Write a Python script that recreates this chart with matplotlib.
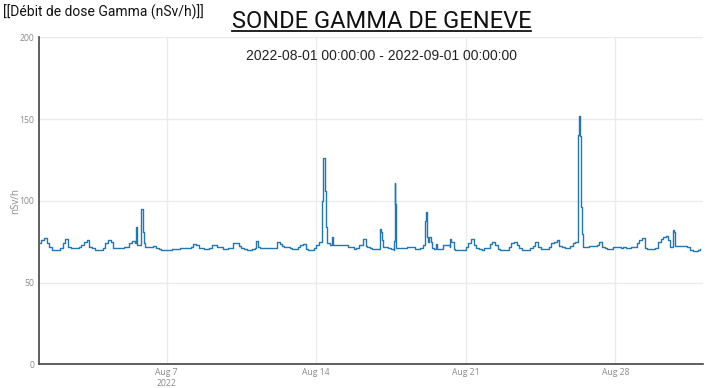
"""Sonde gamma de Genève : débit de dose, août 2022."""

import matplotlib
matplotlib.use("Agg")
import matplotlib.pyplot as plt
import pandas as pd
from matplotlib.lines import Line2D

# ── Données ───────────────────────────────────────────────────────────────────
START = "2022-08-01"

# relevés toutes les 3 h (00h, 03h, ..., 21h), une ligne par jour (nSv/h)
base_3h = [
    [74, 76, 77, 74, 72, 70, 70, 70],            # 01 août
    [71, 74, 76.5, 71.5, 71, 71, 71, 72],        # 02
    [73, 75, 76, 72, 71, 70, 70, 70],            # 03
    [71, 74, 76, 75, 71, 71, 71, 71],            # 04
    [72, 72, 74, 75.4, 74, 73, 73, 81],          # 05
    [72, 71.5, 72, 72.5, 71, 70.5, 70, 70],      # 06
    [70, 70, 70.3, 70.3, 70.8, 71, 71, 71],      # 07
    [71, 72, 73.8, 73, 71, 71, 70.5, 70.5],      # 08
    [71, 73, 73, 72, 71.5, 70.5, 70.5, 71],      # 09
    [71, 74, 74, 72.5, 71, 70.5, 70, 70],        # 10
    [70.5, 71, 75.4, 71, 71, 71, 71, 71],        # 11
    [71, 71, 75, 72.5, 72, 72, 71, 70.5],        # 12
    [70.5, 72, 73, 73.5, 70.5, 70, 70, 71],      # 13
    [73, 75, 77, 126, 74, 73, 78, 73],           # 14
    [73, 73, 73, 73, 72, 72, 70.5, 71],          # 15
    [73, 73, 76.5, 72, 71, 70.3, 70.3, 70.3],    # 16
    [83, 72, 71.5, 71, 70.3, 70, 71, 71],        # 17
    [71, 71, 72, 72, 71.5, 70.5, 70.3, 71],      # 18
    [73, 93, 75, 75, 70.5, 73.5, 70.5, 70.5],    # 19
    [73, 73, 72, 75, 70, 70, 70, 70],            # 20
    [71.5, 74, 76.5, 73, 71, 70.5, 70, 71],      # 21
    [71, 73.5, 75, 73, 70.3, 70, 70, 70],        # 22
    [72, 74, 75, 73, 71, 70, 70, 70],            # 23
    [71, 72.5, 74.5, 72, 70.3, 70.3, 70.3, 72],  # 24
    [74, 75, 76, 72.4, 71.5, 71, 71, 72.5],      # 25
    [73, 75, 75, 139.5, 72, 72, 72.5, 72.5],     # 26
    [72.5, 73, 74.5, 72, 71, 70.3, 70.3, 71.6],  # 27
    [71.6, 71.6, 71, 71.6, 71, 71, 71.6, 72],    # 28
    [74, 76, 77.5, 71, 70.5, 70.3, 70.3, 71],    # 29
    [74.5, 76.5, 78, 78.5, 76, 72, 81, 72.4],    # 30
    [72.4, 72.4, 72.4, 71.6, 69.9, 69.3, 69.5, 70],  # 31
]

# relevés intermédiaires (pics et paliers courts)
event_times = [
    "2022-08-05 14:00", "2022-08-05 19:00", "2022-08-05 22:00",
    "2022-08-11 04:00", "2022-08-11 07:00",
    "2022-08-12 04:00", "2022-08-12 07:30",
    "2022-08-14 07:00", "2022-08-14 07:30", "2022-08-14 09:30",
    "2022-08-14 10:00", "2022-08-14 11:30", "2022-08-14 19:00",
    "2022-08-16 04:00", "2022-08-16 08:00", "2022-08-16 23:30",
    "2022-08-17 00:45", "2022-08-17 01:30", "2022-08-17 02:30",
    "2022-08-17 15:30", "2022-08-17 16:15", "2022-08-17 17:00", "2022-08-17 17:40",
    "2022-08-19 02:00", "2022-08-19 04:00", "2022-08-19 05:00", "2022-08-19 05:30",
    "2022-08-19 07:00", "2022-08-19 10:00", "2022-08-19 14:30", "2022-08-19 16:00",
    "2022-08-19 22:00",
    "2022-08-20 06:30", "2022-08-20 07:30", "2022-08-20 08:00", "2022-08-20 11:00",
    "2022-08-26 01:00", "2022-08-26 06:30", "2022-08-26 07:40", "2022-08-26 08:20",
    "2022-08-26 09:10", "2022-08-26 10:20", "2022-08-26 11:30",
    "2022-08-30 11:00", "2022-08-30 13:00", "2022-08-30 16:30", "2022-08-30 17:30",
    "2022-08-30 19:00",
    "2022-08-31 23:30",
]
event_vals = [
    84, 95, 74,
    75.4, 72,
    75, 73.5,
    100, 126, 119,
    106, 84, 73,
    76.5, 72.3, 76,
    81, 76, 73,
    75.6, 111, 98, 78,
    87.5, 88, 78, 75,
    78, 71, 73.5, 70.5,
    73,
    76.5, 74.5, 75, 70.5,
    74, 140, 152, 139.5,
    96, 79.5, 74,
    76, 72, 82, 81,
    72.4,
    70.3,
]

tick_dates = ["2022-08-07", "2022-08-14", "2022-08-21", "2022-08-28"]
tick_labels = ["Aug 7\n2022", "Aug 14", "Aug 21", "Aug 28"]

# ── Série ─────────────────────────────────────────────────────────────────────
flat = [v for day in base_3h for v in day]
base = pd.Series(flat, index=pd.date_range(START, periods=len(flat), freq="3h"))
events = pd.Series(event_vals, index=pd.to_datetime(event_times))
serie = events.combine_first(base).sort_index()

# ── Plot ──────────────────────────────────────────────────────────────────────
W, H = 712, 388
fig = plt.figure(figsize=(W / 100, H / 100), dpi=100)
ax = fig.add_axes([38.5 / W, 1 - 364.3 / H, (703 - 38.5) / W, (364.3 - 37.3) / H])

ax.step(serie.index, serie.values, where="post", color="#1f77b4", lw=1.0, zorder=3)

ax.set_xlim(pd.Timestamp("2022-08-01 00:00"), pd.Timestamp("2022-09-01 02:30"))
ax.set_ylim(0, 200)
ax.set_yticks([0, 50, 100, 150, 200])
ax.set_xticks(pd.to_datetime(tick_dates))
ax.set_xticklabels(tick_labels)

ax.grid(True, color="#ebebeb", lw=1)
ax.set_axisbelow(True)
for side in ("top", "right"):
    ax.spines[side].set_visible(False)
for side in ("left", "bottom"):
    ax.spines[side].set_color("#444444")
    ax.spines[side].set_linewidth(1.2)

ax.tick_params(length=0, labelsize=6.2, labelcolor="#8a8a8a", pad=3)
for lab in ax.get_xticklabels() + ax.get_yticklabels():
    lab.set_family("Open Sans")
ax.set_ylabel("nSv/h", fontsize=7, color="#8a8a8a", family="Open Sans", labelpad=-1)

# Textes
fig.text(3 / W, 1 - 17 / H, "[[Débit de dose Gamma (nSv/h)]]",
         fontsize=10, family="Roboto", color="#111111", va="baseline", ha="left")
titre = fig.text(381.5 / W, 1 - 28 / H, "SONDE GAMMA DE GENEVE",
                 fontsize=17, family="Roboto", color="#111111", va="baseline", ha="center")
fig.text(381 / W, 1 - 60.5 / H, "2022-08-01 00:00:00 - 2022-09-01 00:00:00",
         fontsize=10, family="Liberation Sans", color="#222222", va="baseline", ha="center")

# soulignement du titre
fig.canvas.draw()
bb = titre.get_window_extent()
y_line = 1 - 31 / H
fig.add_artist(Line2D([bb.x0 / W, bb.x1 / W], [y_line, y_line],
                      color="#111111", lw=1.3, transform=fig.transFigure))

fig.savefig("out.png", dpi=100)
plt.close(fig)
